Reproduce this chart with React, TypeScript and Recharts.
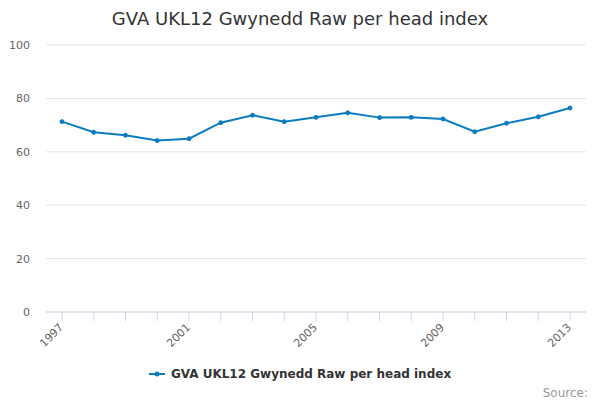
import React from "react";
import {
  LineChart,
  Line,
  XAxis,
  YAxis,
  CartesianGrid,
  Legend,
} from "recharts";

const years = [
  "1997", "1998", "1999", "2000", "2001", "2002", "2003", "2004", "2005",
  "2006", "2007", "2008", "2009", "2010", "2011", "2012", "2013",
];
const values = [
  71.3, 67.3, 66.2, 64.2, 64.9, 70.9, 73.7, 71.3, 72.9,
  74.6, 72.8, 72.9, 72.3, 67.5, 70.7, 73.1, 76.4,
];
const yTicks = [0, 20, 40, 60, 80, 100];
const labeledYears = ["1997", "2001", "2005", "2009", "2013"];
const seriesName = "GVA UKL12 Gwynedd Raw per head index";
const titleText = "GVA UKL12 Gwynedd Raw per head index";
const sourceText = "Source:";

const data = years.map((y, i) => ({ year: y, value: values[i] }));

const FONT = "'DejaVu Sans', sans-serif";
const LINE_COLOR = "#0b7cc1";

const XTick = (props: any) => {
  const { x, payload } = props;
  if (!labeledYears.includes(String(payload.value))) return <g />;
  const tx = x + 2;
  const ty = 328;
  return (
    <text
      x={tx}
      y={ty}
      textAnchor="end"
      fill="#666666"
      fontSize={11}
      fontFamily={FONT}
      transform={`rotate(-45 ${tx} ${ty})`}
    >
      {payload.value}
    </text>
  );
};

const LegendContent = () => (
  <div
    style={{
      display: "flex",
      justifyContent: "center",
      alignItems: "center",
      fontFamily: FONT,
      fontSize: 12,
      fontWeight: "bold",
      color: "#333333",
    }}
  >
    <svg width={16} height={12} style={{ marginRight: 6 }}>
      <line x1={0} y1={6} x2={16} y2={6} stroke={LINE_COLOR} strokeWidth={2} />
      <circle cx={8} cy={6} r={2.5} fill={LINE_COLOR} />
    </svg>
    <span>{seriesName}</span>
  </div>
);

export default function App() {
  return (
    <div
      style={{
        position: "absolute",
        left: 0,
        top: 0,
        width: 600,
        height: 400,
        background: "#ffffff",
        fontFamily: FONT,
      }}
    >
      <div
        style={{
          position: "absolute",
          top: 8,
          left: 0,
          width: 600,
          textAlign: "center",
          fontSize: 18,
          lineHeight: "22px",
          color: "#333333",
          fontFamily: FONT,
        }}
      >
        {titleText}
      </div>
      <LineChart
        width={600}
        height={400}
        data={data}
        margin={{ top: 45, right: 14, left: 0, bottom: 38 }}
      >
        <CartesianGrid stroke="#e6e6e6" vertical={false} />
        <XAxis
          dataKey="year"
          interval={0}
          height={50}
          padding={{ left: 16, right: 16 }}
          tickSize={9}
          tickLine={{ stroke: "#ccd6eb" }}
          axisLine={{ stroke: "#ccd6eb" }}
          tick={<XTick />}
        />
        <YAxis
          domain={[0, 100]}
          ticks={yTicks}
          width={46}
          tickSize={0}
          tickMargin={16}
          tickLine={false}
          axisLine={false}
          tick={{ fill: "#666666", fontSize: 11, fontFamily: FONT }}
        />
        <Legend
          verticalAlign="middle"
          content={<LegendContent />}
          wrapperStyle={{ top: 367, left: 0, width: 600 }}
        />
        <Line
          type="linear"
          dataKey="value"
          name={seriesName}
          stroke={LINE_COLOR}
          strokeWidth={2}
          dot={{ r: 2, fill: LINE_COLOR, stroke: LINE_COLOR, strokeWidth: 1 }}
          activeDot={false}
          isAnimationActive={false}
        />
      </LineChart>
      <div
        style={{
          position: "absolute",
          top: 386,
          right: 12,
          fontSize: 12,
          color: "#999999",
          fontFamily: FONT,
        }}
      >
        {sourceText}
      </div>
    </div>
  );
}
